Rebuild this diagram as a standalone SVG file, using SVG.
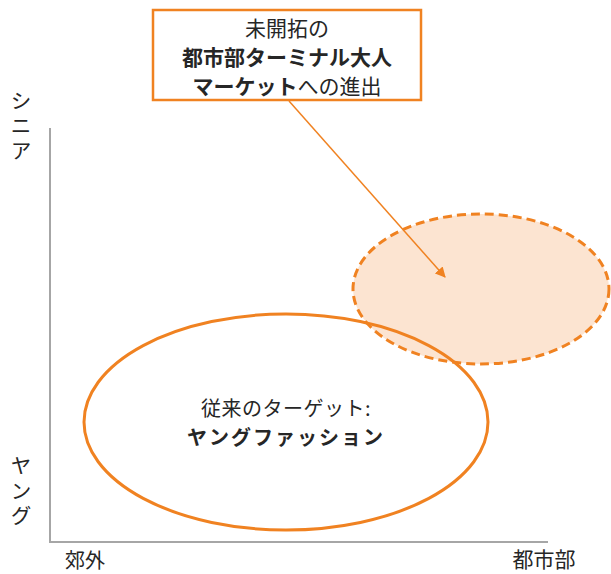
<svg xmlns="http://www.w3.org/2000/svg" width="611" height="574" viewBox="0 0 611 574">
<style>
text{font-family:"Noto Sans CJK JP","Noto Sans CJK SC",sans-serif;fill:#262626;}
.t{font-size:21px;}
.b{font-weight:bold;}
.v{writing-mode:vertical-rl;text-orientation:upright;letter-spacing:4px;}
.ax{stroke:#A6A6A6;stroke-width:2;fill:none;}
</style>
<defs>
<marker id="ah" viewBox="0 0 10 10" refX="9" refY="5" markerWidth="7" markerHeight="7" orient="auto" markerUnits="strokeWidth">
<path d="M0,0 L10,5 L0,10 z" fill="#F08221"/>
</marker>
</defs>
<rect width="611" height="574" fill="#fff"/>
<g id="axes">
<polyline class="ax" points="50,128 50,542 548,542"/>
</g>
<g id="axis-labels" class="t">
<text class="v" x="21" y="90">シニア</text>
<text class="v" x="21" y="455">ヤング</text>
<text x="85" y="568" text-anchor="middle" font-size="20">郊外</text>
<text x="544" y="567" text-anchor="middle">都市部</text>
</g>
<g id="new-market">
<ellipse cx="481" cy="289" rx="128" ry="75" fill="#FCE4D1" stroke="#F08221" stroke-width="3" stroke-dasharray="9 5"/>
</g>
<g id="current-target">
<ellipse cx="286" cy="422" rx="202" ry="108" fill="none" stroke="#F08221" stroke-width="3"/>
<text x="286" y="416" text-anchor="middle" font-size="20" letter-spacing="0.5">従来のターゲット:</text>
<text class="b" x="286" y="445" text-anchor="middle" font-size="20" letter-spacing="2">ヤングファッション</text>
</g>
<g id="callout">
<rect x="153" y="10" width="268" height="90" fill="#fff" stroke="#F08221" stroke-width="2.5"/>
<text class="t" x="287" y="36" text-anchor="middle" font-size="22">未開拓の</text>
<text class="t b" x="287" y="65" text-anchor="middle" font-size="22">都市部ターミナル大人</text>
<text class="t" x="287" y="94" text-anchor="middle" font-size="22"><tspan class="b">マーケット</tspan>への進出</text>
</g>
<g id="connectors">
<line x1="289" y1="101" x2="445" y2="277" stroke="#F08221" stroke-width="1.5" marker-end="url(#ah)"/>
</g>
</svg>
